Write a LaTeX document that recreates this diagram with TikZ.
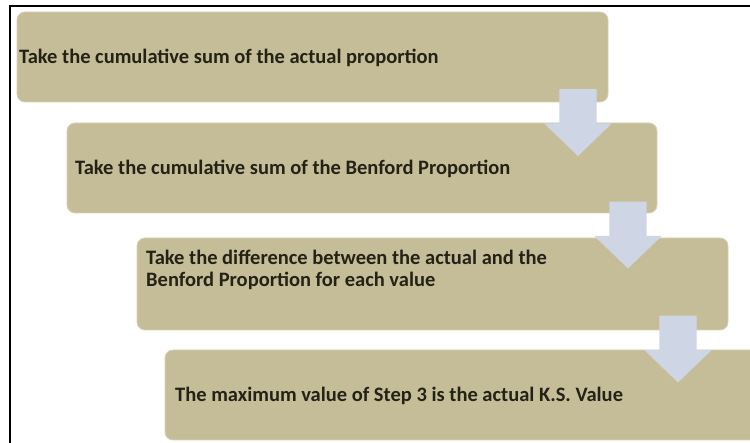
\documentclass[tikz,border=0pt]{standalone}
\usepackage{fontspec}
\setmainfont{Carlito}
\usetikzlibrary{positioning, shapes.arrows}

\definecolor{tanfill}{RGB}{196,189,151}
\definecolor{flowblue}{RGB}{206,214,230}
\definecolor{inkdark}{RGB}{36,34,22}

\begin{document}
\begin{tikzpicture}[
  x=1pt, y=-1pt,
  every node/.style={font=\bfseries\fontsize{20.5}{21.7}\selectfont, text=inkdark},
  stepbox/.style = {draw=tanfill!70!white, line width=0.8pt, fill=tanfill, rounded corners=8pt},
  steptext/.style = {anchor=base west, align=left, inner sep=0pt},
  flow/.style = {single arrow, rotate=-90, fill=flowblue, draw=none,
                 inner xsep=0pt, inner ysep=18.5pt, minimum height=67pt, minimum width=67pt,
                 single arrow head extend=15pt, single arrow tip angle=92},
]
  \useasboundingbox (0,0) rectangle (750,443);

  % frame around the figure
  \draw[line width=2.4pt] (10,443) -- (10,6) -- (750,6);

  % the four steps
  \path[stepbox] (17,12)  rectangle (608,102);
  \path[stepbox] (67,123) rectangle (657,213);
  \path[stepbox] (137,238) rectangle (728,330);
  \path[stepbox] (165,350) rectangle (762,440);

  \node[steptext] (s1) at (19,64)   {Take the cumulative sum of the actual proportion};
  \node[steptext] (s2) at (75,175)  {Take the cumulative sum of the Benford Proportion};
  \node[steptext, anchor=north west] (s3) at (146,250) {Take the difference between the actual and the\\Benford Proportion for each value};
  \node[steptext] (s4) at (175,402) {The maximum value of Step 3 is the actual K.S. Value};

  % block arrows between the steps
  \node[flow] (a1) at (578,113.5) {};
  \node[flow] (a2) at (628,226) {};
  \node[flow] (a3) at (678,340) {};
\end{tikzpicture}
\end{document}
